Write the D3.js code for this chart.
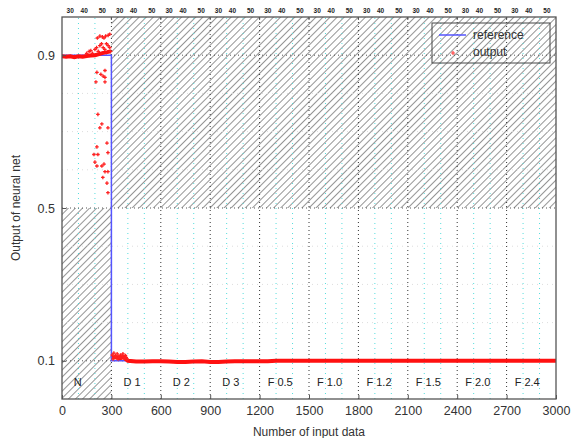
<!DOCTYPE html>
<html><head><meta charset="utf-8">
<script src="https://cdn.jsdelivr.net/npm/d3@7"></script>
<style>body{margin:0;background:#fff}svg{display:block}text{font-family:"Liberation Sans",Arial,sans-serif}</style>
</head><body>
<svg id="c" width="578" height="438"></svg>
<script>
// ---- data ----
const xTicks = [0,300,600,900,1200,1500,1800,2100,2400,2700,3000];
const yTicks = [0.1,0.5,0.9];
const segmentStarts = [0,300,600,900,1200,1500,1800,2100,2400,2700];
const segmentLabels = ["N","D 1","D 2","D 3","F 0.5","F 1.0","F 1.2","F 1.5","F 2.0","F 2.4"];
const topLabels = ["30","40","50"];
const topLabelOffsets = [50,135,245];
// reference (target) series
const refX = [0,300,300,3000];
const refY = [0.9,0.9,0.1,0.1];
// network output: main band
const outX = [0,25,50,75,100,125,150,175,200,225,250,275,295,null,
  305,325,350,375,400,450,500,550,600,650,700,750,800,850,900,950,1000,1050,1100,1150,1200,1250,1300,
  1350,1400,1500,1600,1700,1800,1900,2000,2100,2200,2300,2400,2500,2600,2700,2800,2900,3000];
const outY = [0.897,0.896,0.897,0.895,0.897,0.896,0.898,0.899,0.9,0.903,0.906,0.908,0.91,null,
  0.108,0.11,0.107,0.109,0.1,0.098,0.098,0.099,0.099,0.098,0.097,0.097,0.098,0.099,0.097,0.097,0.098,0.099,0.099,0.099,0.099,0.099,0.1,
  0.1,0.1,0.1,0.1,0.1,0.1,0.1,0.1,0.1,0.1,0.1,0.1,0.1,0.1,0.1,0.1,0.1,0.1];
// network output: scattered points
const scatX = [150,165,175,185,200,210,220,230,240,250,260,270,280,290,295,
  215,230,245,255,265,280,290,
  212,261,261,261,206,236,250,218,242,279,230,273,212,218,200,212,242,261,279,248,273,279,194,279,255,
  305,310,315,320,325,330,335,340,345,350,355,360,365,370,375,380,385,390,395];
const scatY = [0.905,0.91,0.912,0.905,0.915,0.92,0.91,0.925,0.93,0.92,0.915,0.93,0.925,0.92,0.91,
  0.945,0.95,0.948,0.945,0.95,0.952,0.955,
  0.855,0.86,0.842,0.83,0.83,0.85,0.845,0.745,0.72,0.71,0.71,0.67,0.66,0.64,0.62,0.61,0.61,0.595,0.595,0.58,0.565,0.54,0.64,0.645,0.615,
  0.115,0.105,0.12,0.11,0.113,0.108,0.118,0.105,0.112,0.109,0.115,0.107,0.113,0.118,0.11,0.106,0.114,0.109,0.104];

// ---- chart ----
const svg = d3.select("#c");
const m = {l:62, r:22, t:17, b:39};
const W = 578 - m.l - m.r, H = 438 - m.t - m.b;
const x = d3.scaleLinear().domain([0,3000]).range([m.l, m.l+W]);
const y = d3.scaleLinear().domain([0,1]).range([m.t+H, m.t]);

const defs = svg.append("defs");
const pat = defs.append("pattern").attr("id","hatch").attr("patternUnits","userSpaceOnUse")
  .attr("width",5).attr("height",5).attr("patternTransform","rotate(45)");
pat.append("line").attr("x1",0).attr("y1",0).attr("x2",0).attr("y2",5)
  .attr("stroke","#8f8f8f").attr("stroke-width",1.9);
defs.append("clipPath").attr("id","clip").append("rect")
  .attr("x",m.l).attr("y",m.t).attr("width",W).attr("height",H);

// hatched regions
svg.append("rect").attr("x",x(0)).attr("y",y(0.5)).attr("width",x(300)-x(0)).attr("height",y(0)-y(0.5)).attr("fill","url(#hatch)");
svg.append("rect").attr("x",x(300)).attr("y",y(1)).attr("width",x(3000)-x(300)).attr("height",y(0.5)-y(1)).attr("fill","url(#hatch)");

// grid
const g = svg.append("g").attr("clip-path","url(#clip)");
const minorX = d3.range(100,3000,100).filter(v=>v%300!==0);
g.selectAll(".mx").data(minorX).join("line").attr("x1",d=>x(d)).attr("x2",d=>x(d))
  .attr("y1",y(0)).attr("y2",y(1)).attr("stroke","#55dddd").attr("stroke-width",1).attr("stroke-dasharray","1,4");
g.selectAll(".Mx").data(xTicks.slice(1,-1)).join("line").attr("x1",d=>x(d)).attr("x2",d=>x(d))
  .attr("y1",y(0)).attr("y2",y(1)).attr("stroke","#333").attr("stroke-width",1).attr("stroke-dasharray","1,3");
const minorY = [0.2,0.3,0.4,0.6,0.7,0.8];
g.selectAll(".my").data(minorY).join("line").attr("x1",x(0)).attr("x2",x(3000))
  .attr("y1",d=>y(d)).attr("y2",d=>y(d)).attr("stroke","#ddd").attr("stroke-width",1).attr("stroke-dasharray","1,4");
g.selectAll(".My").data(yTicks).join("line").attr("x1",x(0)).attr("x2",x(3000))
  .attr("y1",d=>y(d)).attr("y2",d=>y(d)).attr("stroke","#555").attr("stroke-width",1).attr("stroke-dasharray","1,3");

// reference line
const refLine = d3.line().x(d=>x(d[0])).y(d=>y(d[1]));
g.append("path").datum(refX.map((v,i)=>[v,refY[i]])).attr("d",refLine)
  .attr("fill","none").attr("stroke","#5555ff").attr("stroke-width",1.5);

// output band
const outLine = d3.line().defined(d=>d[0]!==null).x(d=>x(d[0])).y(d=>y(d[1]));
g.append("path").datum(outX.map((v,i)=>[v,outY[i]])).attr("d",outLine)
  .attr("fill","none").attr("stroke","#ff1010").attr("stroke-width",4);
// scatter
const sc = g.append("g");
scatX.forEach((v,i)=>{
  const cx=x(v), cy=y(scatY[i]);
  sc.append("path").attr("d",`M${cx-1.8},${cy}H${cx+1.8}M${cx},${cy-1.8}V${cy+1.8}`)
    .attr("stroke","#ff2020").attr("stroke-width",1.3);
});

// segment labels
svg.selectAll(".seg").data(segmentLabels).join("text")
  .attr("x",(d,i)=>x(segmentStarts[i]+(i===0?95:125))).attr("y",y(0.035))
  .attr("text-anchor","middle").attr("font-size",11).attr("fill","#222").text(d=>d);

// frame
svg.append("rect").attr("x",m.l).attr("y",m.t).attr("width",W).attr("height",H)
  .attr("fill","none").attr("stroke","#555").attr("stroke-width",1.3);

// axes
const xa = svg.append("g").attr("transform",`translate(0,${m.t+H})`)
  .call(d3.axisBottom(x).tickValues(xTicks).tickSize(-4).tickPadding(7).tickFormat(d3.format("d")));
const ya = svg.append("g").attr("transform",`translate(${m.l},0)`)
  .call(d3.axisLeft(y).tickValues(yTicks).tickSize(-4).tickPadding(7).tickFormat(d3.format(".1f")));
[xa,ya].forEach(a=>{a.select(".domain").remove();
  a.selectAll("line").attr("stroke","#555");
  a.selectAll("text").attr("font-size",12.5).attr("fill","#333").attr("font-family","Liberation Sans, Arial, sans-serif");});

// top labels
const topData = [];
segmentStarts.forEach(s=>topLabelOffsets.forEach((o,j)=>topData.push({v:s+o,t:topLabels[j]})));
svg.selectAll(".tl").data(topData).join("text").attr("x",d=>x(d.v)).attr("y",m.t-4)
  .attr("text-anchor","middle").attr("font-size",6.5).attr("font-weight","bold").attr("fill","#222").text(d=>d.t);
svg.selectAll(".tt").data(xTicks.slice(1,-1)).join("line").attr("x1",d=>x(d)).attr("x2",d=>x(d))
  .attr("y1",m.t).attr("y2",m.t+3).attr("stroke","#555");

// axis titles
svg.append("text").attr("x",x(1500)).attr("y",436).attr("text-anchor","middle")
  .attr("font-size",12).attr("fill","#333").text("Number of input data");
svg.append("text").attr("transform",`translate(20,${y(0.5)}) rotate(-90)`).attr("text-anchor","middle")
  .attr("font-size",12).attr("fill","#333").text("Output of neural net");

// legend
const lg = svg.append("g");
lg.append("rect").attr("x",432).attr("y",23).attr("width",118).attr("height",40)
  .attr("fill","none").attr("stroke","#444").attr("stroke-width",1);
lg.append("line").attr("x1",439).attr("x2",466).attr("y1",35).attr("y2",35).attr("stroke","#5555ff").attr("stroke-width",1.5);
lg.append("path").attr("d","M451,53H455M453,51V55").attr("stroke","#ff4040").attr("stroke-width",1.2);
lg.append("text").attr("x",473).attr("y",39).attr("font-size",12).attr("fill","#333").text("reference");
lg.append("text").attr("x",473).attr("y",56).attr("font-size",12).attr("fill","#333").text("output");
</script>
</body></html>
